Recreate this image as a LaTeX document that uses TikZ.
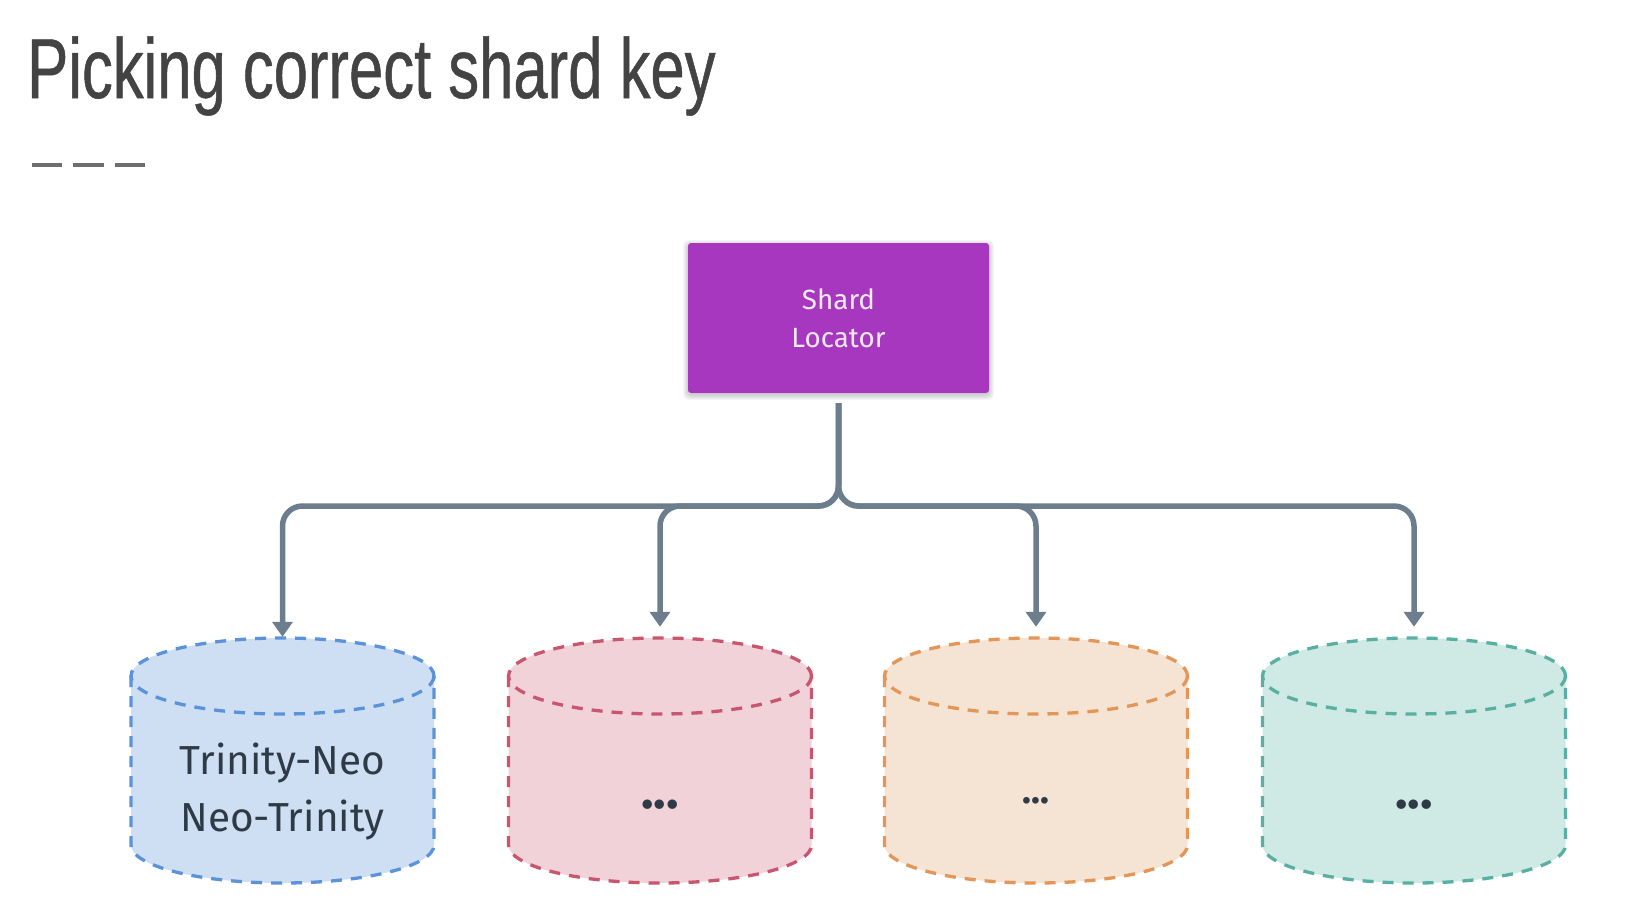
\documentclass[tikz,border=0pt]{standalone}
\usepackage{fontspec}
\usetikzlibrary{arrows.meta,calc}
\setmainfont{Fira Sans}
\newfontfamily\titlefont[FakeStretch=0.725,FakeBold=0.6]{Liberation Sans}
\definecolor{titlecol}{HTML}{434343}
\definecolor{dashcol}{HTML}{6E6E6E}
\definecolor{purplebox}{HTML}{A737BE}
\definecolor{conncol}{HTML}{6C7D8D}
\definecolor{inkcol}{HTML}{2E3A46}
\definecolor{bluefill}{HTML}{CFDFF3}\definecolor{blueline}{HTML}{5B93DB}
\definecolor{redfill}{HTML}{F0D2D8}\definecolor{redline}{HTML}{C9566F}
\definecolor{orangefill}{HTML}{F5E3D3}\definecolor{orangeline}{HTML}{E39658}
\definecolor{tealfill}{HTML}{CFE9E5}\definecolor{tealline}{HTML}{58B0A2}
\tikzset{
  x=1pt,y=-1pt,
  titletext/.style={anchor=base west,inner sep=0pt,text=titlecol,font=\titlefont\fontsize{85}{85}\selectfont},
  rulemark/.style={draw=dashcol,line width=3.8pt},
  locator/.style={fill=purplebox,rounded corners=3pt,minimum width=301pt,minimum height=150pt,inner sep=0pt,
     text=white!90!purplebox,align=center,font=\fontsize{27.8}{38}\selectfont},
  softshade/.style={fill=black,opacity=0.035,rounded corners=5pt},
  cylinderhit/.style={minimum width=303pt,minimum height=246pt,inner sep=0pt},
  cylline/.style={line width=3.3pt,dash pattern=on 11pt off 9pt},
  conn/.style={draw=conncol,line width=5.5pt,rounded corners=20pt,-{Triangle[width=20pt,length=15pt]},shorten <=10pt},
  connshort/.style={conn,shorten >=10pt},
  dbtext/.style={inner sep=0pt,text=inkcol,align=center,font=\fontsize{40.5}{57}\selectfont},
  dotstext/.style={anchor=base,inner sep=0pt,text=inkcol,font=\bfseries\fontsize{52}{52}\selectfont},
}
\newcommand{\cylbody}[4]{% name, centre x, fill, line
  \fill[#3] (#2-151.5,676) -- (#2-151.5,845) arc[start angle=180,end angle=360,x radius=151.5,y radius=-38] --
     (#2+151.5,676) arc[start angle=0,end angle=180,x radius=151.5,y radius=-38] -- cycle;
  \draw[#4,cylline]
     (#2-151.5,676) -- (#2-151.5,845) arc[start angle=180,end angle=360,x radius=151.5,y radius=-38] -- (#2+151.5,676);
  \draw[#4,cylline]
     (#2,676) ellipse[x radius=151.5,y radius=38];
  \node[cylinderhit] (#1) at (#2,760) {};
}
\begin{document}
\begin{tikzpicture}
\useasboundingbox (0,0) rectangle (1636,916);
\fill[white] (0,0) rectangle (1636,916);
\node[titletext] (title) at (27,98) {Picking correct shard key};
\draw[rulemark] (32,165) -- (62,165);
\draw[rulemark] (73,165) -- (104,165);
\draw[rulemark] (115,165) -- (145,165);
\foreach \r in {1,2,3,4,5}
  \fill[softshade] (688-\r,243+2-\r) rectangle (989+\r,393+2+\r);
\node[locator] (s) at (838.5,318) {Shard\\Locator};
\cylbody{c1}{282.5}{bluefill}{blueline}
\cylbody{c2}{660}{redfill}{redline}
\cylbody{c3}{1036}{orangefill}{orangeline}
\cylbody{c4}{1414}{tealfill}{tealline}
\coordinate (bus) at (0,506);
\draw[conn] (s.south) -- (s.south |- bus) -- (c1.north |- bus) -- (c1.north);
\draw[connshort] (s.south) -- (s.south |- bus) -- (c2.north |- bus) -- (c2.north);
\draw[connshort] (s.south) -- (s.south |- bus) -- (c3.north |- bus) -- (c3.north);
\draw[connshort] (s.south) -- (s.south |- bus) -- (c4.north |- bus) -- (c4.north);
\node[dbtext] (t1) at (282.5,792) {Trinity-Neo\\Neo-Trinity};
\node[dotstext] (t2) at (660,808) {...};
\node[dotstext,font=\bfseries\fontsize{37}{37}\selectfont] (t3) at (1036,803) {...};
\node[dotstext] (t4) at (1414,808) {...};
\end{tikzpicture}
\end{document}
